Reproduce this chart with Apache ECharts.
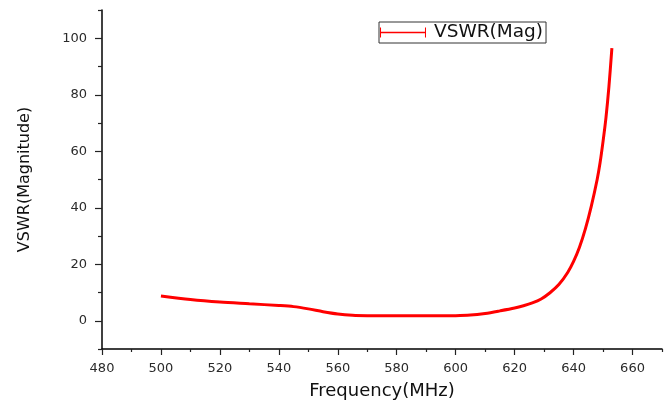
<!DOCTYPE html>
<html>
<head>
<meta charset="utf-8">
<script src="https://cdn.jsdelivr.net/npm/echarts@6/dist/echarts.min.js"></script>
<style>html,body{margin:0;padding:0;background:#fff}#c{width:668px;height:405px}</style>
</head>
<body>
<div id="c"></div>
<script>
var freq = [500, 510, 520, 530, 540, 545, 550, 555, 560, 565, 570, 580, 590, 600, 605, 610, 615, 620, 623, 626, 629, 632, 635, 638, 640, 642, 644, 646, 648, 649, 650, 651, 652, 653];
var vswr = [8.8, 7.5, 6.6, 6.0, 5.4, 5.0, 4.2, 3.2, 2.4, 1.95, 1.8, 1.75, 1.75, 1.8, 2.0, 2.6, 3.5, 4.5, 5.3, 6.3, 7.7, 9.9, 12.8, 17.1, 21, 26, 32.5, 40.5, 50, 56, 63.5, 72, 83, 96.5];
var xMajor = [480, 500, 520, 540, 560, 580, 600, 620, 640, 660];
var xMinor = [490, 510, 530, 550, 570, 590, 610, 630, 650, 670];
var yMajor = [0, 20, 40, 60, 80, 100];
var yMinor = [-10, 10, 30, 50, 70, 90, 110];
var seriesName = 'VSWR(Mag)';

var font = 'DejaVu Sans, Arial, sans-serif';
var chart = echarts.init(document.getElementById('c'), null, {renderer: 'canvas'});
var pts = freq.map(function (f, i) { return [f, vswr[i]]; });

chart.setOption({
  animation: false,
  backgroundColor: '#fff',
  grid: {left: 102, right: 6, top: 10, bottom: 53, containLabel: false},
  legend: {
    left: 379, top: 22,
    padding: [1, 3, 1, 1],
    itemGap: 0,
    itemWidth: 46, itemHeight: 18,
    borderColor: '#333', borderWidth: 1,
    data: [{name: seriesName, icon: 'path://M0,0h2v20h-2z M0,8.3h90v3.4h-90z M88,0h2v20h-2z'}],
    textStyle: {fontFamily: font, fontSize: 18.5, color: '#111', padding: [0, 0, 0, 3]}
  },
  xAxis: [{
    type: 'value', min: 480, max: 670, interval: 20,
    name: 'Frequency(MHz)', nameLocation: 'middle', nameGap: 33,
    nameTextStyle: {fontFamily: font, fontSize: 18, color: '#111'},
    axisLine: {show: true, onZero: false, lineStyle: {color: '#000', width: 1.5}},
    axisTick: {show: true, inside: false, length: 6, customValues: xMajor, lineStyle: {color: '#222', width: 1.2}},
    axisLabel: {customValues: xMajor, fontFamily: font, fontSize: 13, color: '#2a2a2a', margin: 13},
    splitLine: {show: false}
  }, {
    type: 'value', min: 480, max: 670, position: 'bottom',
    axisLine: {show: false, onZero: false},
    axisTick: {show: true, inside: false, length: 3, customValues: xMinor, lineStyle: {color: '#222', width: 1.2}},
    axisLabel: {show: false},
    splitLine: {show: false}
  }],
  yAxis: [{
    type: 'value', min: -10, max: 110,
    name: 'VSWR(Magnitude)', nameLocation: 'middle', nameGap: 69, nameRotate: 90,
    nameTextStyle: {fontFamily: font, fontSize: 16, color: '#111'},
    axisLine: {show: true, onZero: false, lineStyle: {color: '#000', width: 1.5}},
    axisTick: {show: true, inside: false, length: 7, customValues: yMajor, lineStyle: {color: '#222', width: 1.2}},
    axisLabel: {customValues: yMajor, fontFamily: font, fontSize: 13, color: '#2a2a2a', margin: 15},
    splitLine: {show: false}
  }, {
    type: 'value', min: -10, max: 110, position: 'left',
    axisLine: {show: false, onZero: false},
    axisTick: {show: true, inside: false, length: 4, customValues: yMinor, lineStyle: {color: '#222', width: 1.2}},
    axisLabel: {show: false},
    splitLine: {show: false}
  }],
  series: [{
    name: seriesName,
    type: 'line',
    xAxisIndex: 0, yAxisIndex: 0,
    data: pts,
    smooth: 0.3,
    showSymbol: false, symbol: 'none',
    lineStyle: {color: '#ff0000', width: 3},
    itemStyle: {color: '#ff0000'}
  }]
});
</script>
</body>
</html>
